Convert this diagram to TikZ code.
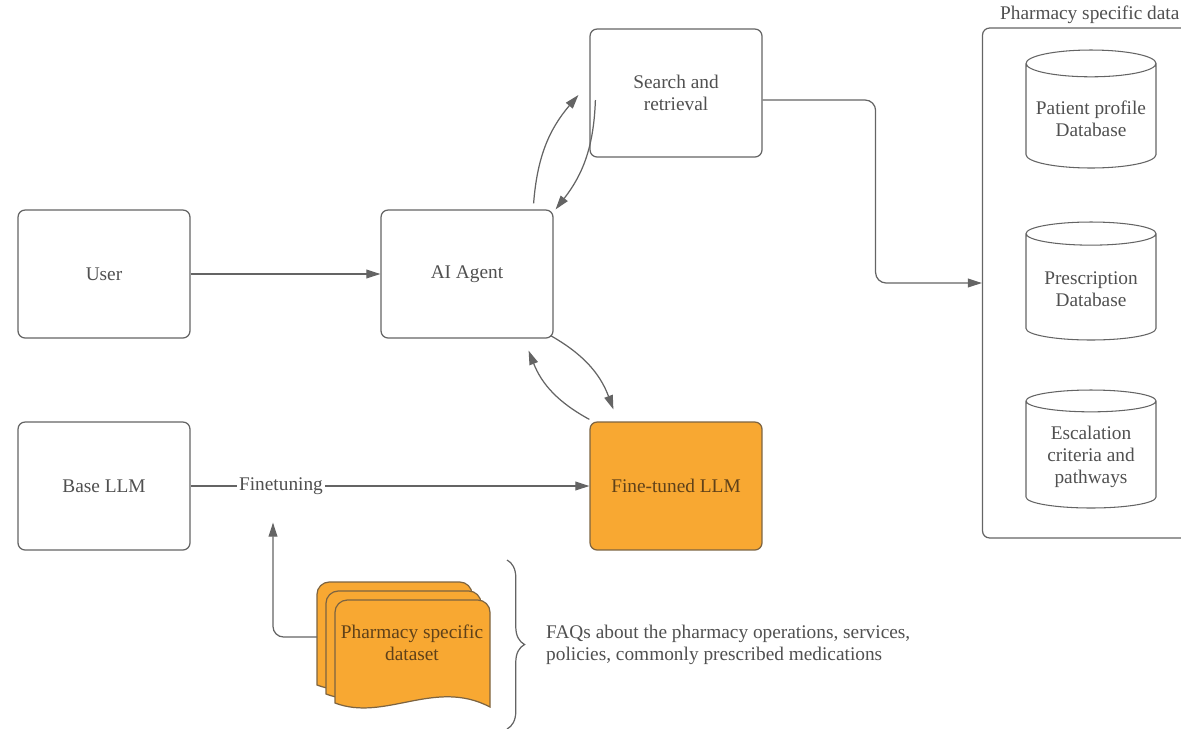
\documentclass[tikz,border=0pt]{standalone}
\usepackage{fontspec}
\setmainfont{Liberation Serif}
\usetikzlibrary{arrows.meta,positioning,calc,shapes.geometric,decorations.pathreplacing}
\definecolor{lineGray}{RGB}{100,100,100}
\definecolor{textGray}{RGB}{80,80,80}
\definecolor{llmOrange}{RGB}{248,168,50}
\definecolor{edgeBrown}{RGB}{125,100,65}
\definecolor{textBrown}{RGB}{95,65,25}

\begin{document}
\begin{tikzpicture}[x=0.02cm, y=-0.02cm,
    every node/.style={font=\fontsize{11}{12.6}\selectfont, text=textGray},
    box/.style={draw=lineGray, line width=0.7pt, rounded corners=4pt, fill=white,
                minimum width=3.44cm, minimum height=2.56cm, align=center},
    llmbox/.style={box, fill=llmOrange, draw=edgeBrown, text=textBrown},
    dbcyl/.style={cylinder, shape border rotate=90, draw=lineGray, line width=0.6pt,
                  aspect=0.22, minimum width=2.6cm, minimum height=2.36cm, align=center,
                  anchor=shape center},
    sheet/.style={draw=edgeBrown, line width=0.7pt, fill=llmOrange},
    conn/.style={draw=lineGray, line width=0.7pt},
    arr/.style={conn, -{Triangle[length=8pt,width=5pt]}},
    brace/.style={draw=lineGray, line width=0.7pt, decorate,
                  decoration={brace, amplitude=10pt}}]

    \useasboundingbox (0,0) rectangle (1181,728);
    \clip (0,0) rectangle (1181,728);

    % ---- boxes ----
    \node[box] (user) at (104,274) {User};
    \node[box] (agent) at (467,274) {AI Agent};
    \node[box] (search) at (676,93) {Search and\\retrieval};
    \node[box] (base) at (104,486) {Base LLM};
    \node[llmbox] (ftllm) at (676,486) {Fine-tuned LLM};
    \node[inner sep=1pt, fill=white] (ftlabel) at (281,486) {Finetuning};

    % ---- pharmacy data ----
    \node[draw=lineGray, line width=0.7pt, rounded corners=4pt,
          minimum width=4.5cm, minimum height=10.2cm] (phdata) at (1095,283) {};
    \node[above=1pt of phdata.north, inner sep=1pt, xshift=-3pt] (phlabel) {Pharmacy specific data};
    \node[dbcyl] (patientdb) at (1091,109) {Patient profile\\Database};
    \node[dbcyl] (rxdb) at (1091,281) {Prescription\\Database};
    \node[dbcyl] (escdb) at (1091,449) {Escalation\\criteria and\\pathways};

    % ---- dataset (stacked sheets) ----
    \foreach \d in {2,1,0} {
      \draw[sheet, shift={(335-9*\d,600-9*\d)}, rounded corners=7pt]
        (0,50) -- (0,0) -- (155,0) -- (155,50) [sharp corners] -- (155,107)
        .. controls (100,78) and (50,122) .. (0,103) -- cycle;
    }
    \node[align=center, text=textBrown, minimum width=3.1cm] (dataset) at (412,643)
      {Pharmacy specific\\dataset};

    \node[anchor=west, align=left] (faq) at (540,645)
      {FAQs about the pharmacy operations, services,\\policies, commonly prescribed medications};
    \draw[brace] ($(faq.west)+(-33,-85)$) -- ($(faq.west)+(-33,84)$);

    % ---- connectors ----
    \draw[arr] (user) -- (agent);
    \draw[conn] (base) -- (ftlabel);
    \draw[arr] (ftlabel) -- (ftllm);
    \draw[arr, rounded corners=6pt] ($(dataset.west)+(-17,-6)$) -| ($(ftlabel.south)+(-8,26)$);
    \draw[arr, rounded corners=6pt] ($(search.east)+(0,7)$) -- ++(113,0) |- (phdata.west);

    \draw[arr] ($(agent.north east)+(-20,-6)$) to[bend left=18] ($(search.west)+(-11,2)$);
    \draw[arr] ($(search.west)+(6,7)$) to[bend left=18] ($(agent.north east)+(2,0)$);
    \draw[arr] ($(agent.south east)+(-3,-3)$) to[bend left=20] ($(ftllm.north west)+(24,-12)$);
    \draw[arr] ($(ftllm.north west)+(0,-2)$) to[bend left=20] ($(agent.south east)+(-25,12)$);

\end{tikzpicture}
\end{document}
